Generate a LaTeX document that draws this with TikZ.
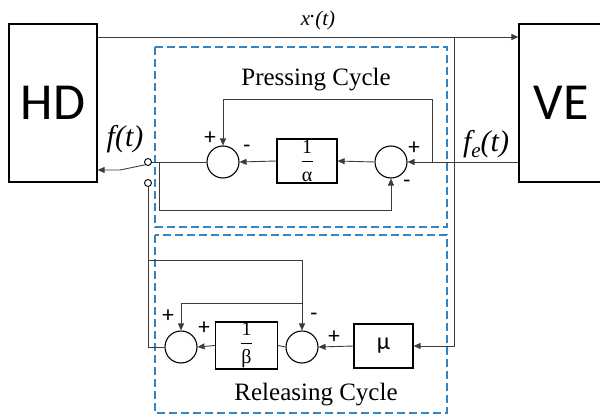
\documentclass[tikz,border=0pt]{standalone}
\usepackage{fontspec}
\setmainfont{Liberation Serif}
\newfontfamily\calib{Carlito}
\usetikzlibrary{arrows.meta}
\definecolor{dashblue}{RGB}{52,132,194}
\definecolor{sigcol}{RGB}{60,60,60}
\begin{document}
\begin{tikzpicture}[x=1pt,y=-1pt,
 sig/.style={draw=sigcol, line width=0.9pt},
 arr/.style={sig, -{Triangle[length=7pt,width=6pt]}},
 sumnode/.style={circle, draw, line width=1.1pt, minimum size=32pt, inner sep=0pt},
 blockbox/.style={draw, line width=1.2pt, inner sep=0pt, align=center, font=\fontsize{20}{20}\selectfont},
 bigbox/.style={draw, line width=1.2pt, inner sep=0pt, font=\calib\fontsize{52}{52}\selectfont},
 cyclebox/.style={draw=dashblue, line width=1.3pt, dash pattern=on 8pt off 4pt},
 sgn/.style={font=\calib\fontsize{23}{23}\selectfont, inner sep=0pt},
 lbl/.style={font=\fontsize{25}{25}\selectfont, inner sep=0pt, anchor=base},
 sig lbl/.style={inner sep=0pt, anchor=base},
 swc/.style={circle, draw, line width=0.9pt, minimum size=7pt, inner sep=0pt, fill=white}
]
\useasboundingbox (0,0) rectangle (600,420);
% cycle frames
\draw[cyclebox] (155,47) rectangle (447,227);
\draw[cyclebox] (155,235) rectangle (447,413);
% main blocks
\node[bigbox, minimum width=88pt, minimum height=158pt] (HD) at (53,103) {HD};
\node[bigbox, minimum width=84pt, minimum height=158pt] (VE) at (561,103) {VE};
% pressing cycle
\node[sumnode] (s1) at (223,162) {};
\node[sumnode] (s2) at (391,162) {};
\node[blockbox, minimum width=60pt, minimum height=44pt] (ba) at (307,161) {1\\[-11.5pt]\rule{11pt}{1pt}\\[-0.5pt]α};
% releasing cycle
\node[sumnode] (s3) at (181,347) {};
\node[sumnode] (s4) at (302,347) {};
\node[blockbox, minimum width=62pt, minimum height=47pt] (bb) at (246.5,345.5) {1\\[-11.5pt]\rule{11pt}{1pt}\\[-0.5pt]β};
\node[blockbox, font=\calib\fontsize{24}{24}\selectfont, minimum width=59pt, minimum height=44pt] (mu) at (383.5,346) {μ};
% switch
\node[swc] (sw1) at (148,162) {};
\node[swc] (sw2) at (148,183) {};
% coordinates
\coordinate (xt) at (454,37);
\coordinate (tp) at (432,162);
\coordinate (topfb) at (432,99);
\coordinate (j1) at (159,162);
\coordinate (j1b) at (159,210);
\coordinate (bl) at (120,170);
\coordinate (ol) at (148,347);
\coordinate (j2) at (148,260);
\coordinate (j3) at (302,303);
% connectors
\draw[arr] (HD.east |- xt) -- (VE.west |- xt);
\draw[arr] (xt) |- (mu.east);
\draw[arr] (VE.west |- s2) -- (s2.east);
\draw[arr] (tp) -- (topfb) -| (s1.north);
\draw[arr] (s2.west) -- (ba.east);
\draw[arr] (ba.west) -- (s1.east);
\draw[sig] (s1.west) -- (sw1.east);
\draw[arr] (j1) -- (j1b) -| (s2.south);
\draw[arr] (sw1.south west) -- (bl) -- (HD.east |- bl);
\draw[sig] (s3.west) -- (ol) -- (sw2.south);
\draw[arr] (j2) -| (s4.north);
\draw[arr] (j3) -| (s3.north);
\draw[arr] (mu.west) -- (s4.east);
\draw[sig] (s4.west) -- (bb.east);
\draw[arr] (bb.west) -- (s3.east);
% texts
\node[lbl] (pc) at (316,85) {Pressing Cycle};
\node[lbl] (rc) at (316,400) {Releasing Cycle};
\node[sig lbl, font=\fontsize{21}{21}\selectfont\itshape] (xl) at (318,26) {x\raisebox{0.4em}{.}(t)};
\node[sig lbl, font=\fontsize{30}{30}\selectfont\itshape] (fl) at (125,146) {f(t)};
\node[sig lbl, font=\fontsize{30}{30}\selectfont\itshape] (fel) at (486,151) {f\raisebox{-0.2em}{\fontsize{21}{21}\selectfont e}(t)};
% signs
\node[sgn] (p1) at (210,138) {+};
\node[sgn] (m1) at (247,149) {-};
\node[sgn] (p2) at (414,148) {+};
\node[sgn] (m2) at (407,184) {-};
\node[sgn] (p3) at (168,316) {+};
\node[sgn] (p4) at (204,328) {+};
\node[sgn] (m4) at (314,317) {-};
\node[sgn] (p5) at (334,337) {+};
\end{tikzpicture}
\end{document}
